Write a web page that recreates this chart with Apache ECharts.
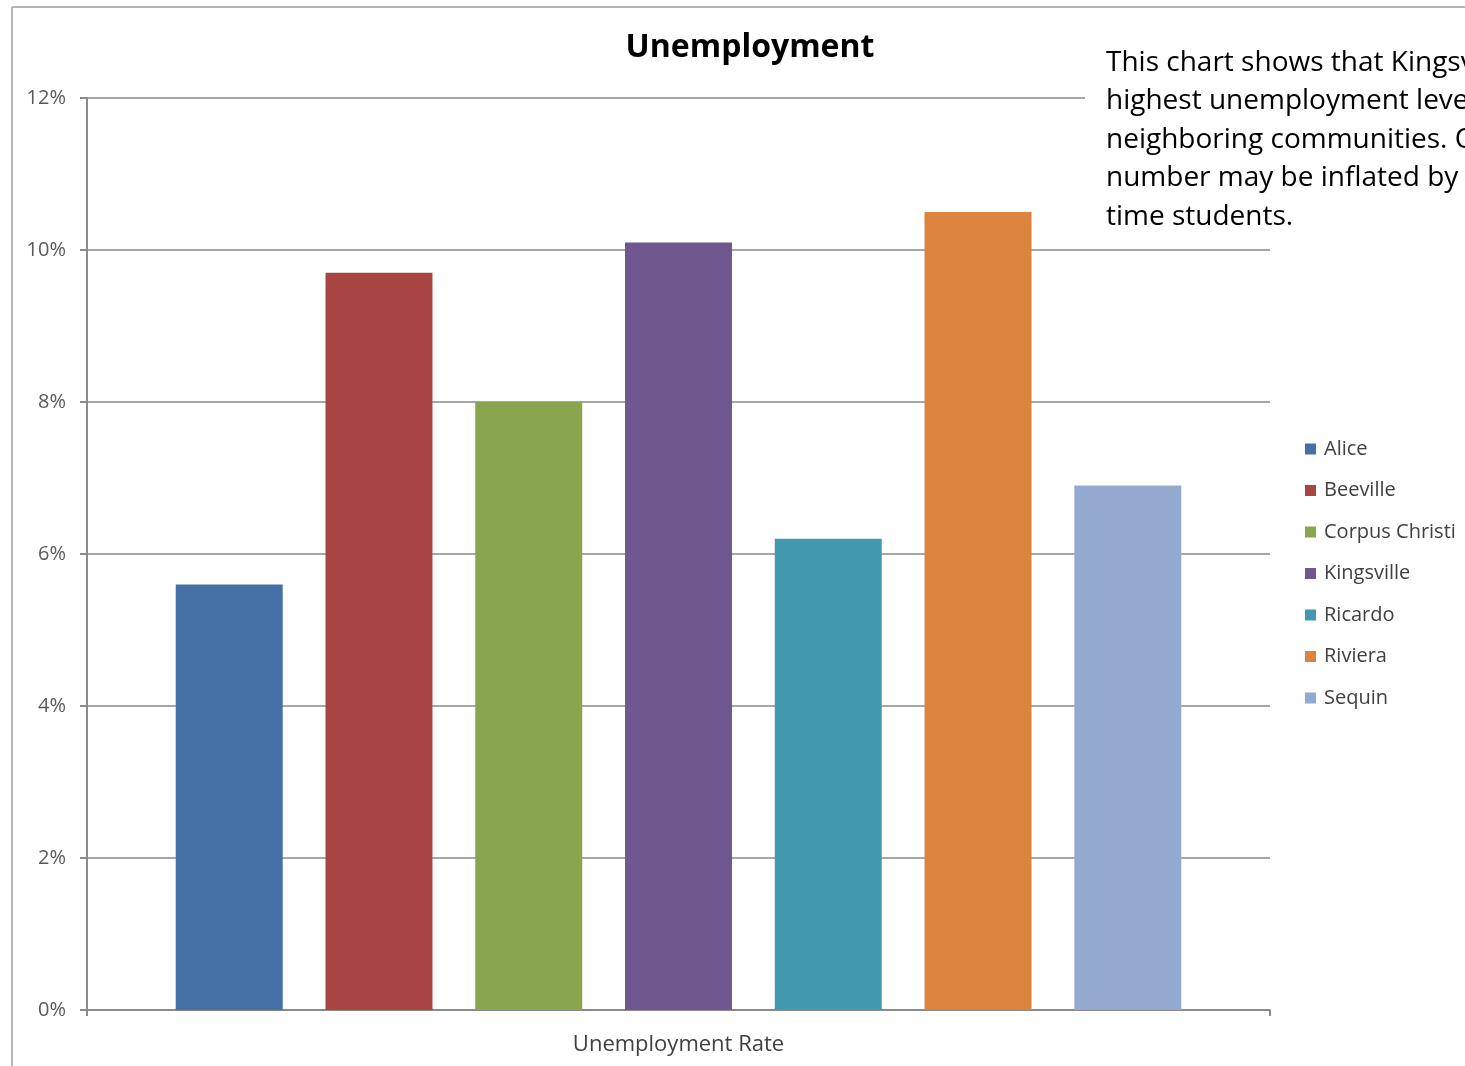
<!DOCTYPE html>
<html>
<head>
<meta charset="utf-8">
<script src="https://cdn.jsdelivr.net/npm/echarts@6/dist/echarts.min.js"></script>
<style>
html,body{margin:0;padding:0;background:#fff;}
#chart{width:1465px;height:1066px;}
</style>
</head>
<body>
<div id="chart"></div>
<script>
const categories = ['Unemployment Rate'];
const seriesNames = ['Alice', 'Beeville', 'Corpus Christi', 'Kingsville', 'Ricardo', 'Riviera', 'Sequin'];
const seriesValues = [5.6, 9.7, 8.0, 10.1, 6.2, 10.5, 6.9];
const seriesColors = ['#4470A6', '#A84542', '#89A54E', '#71578F', '#4298AF', '#DA843D', '#94A9D0'];
const yTicks = [0, 2, 4, 6, 8, 10, 12];
const noteLines = [
  'This chart shows that Kingsville has the',
  'highest unemployment level of all the',
  'neighboring communities. Our',
  'number may be inflated by the part-',
  'time students.'
];

const font = 'Open Sans';
const chart = echarts.init(document.getElementById('chart'));

const series = seriesNames.map((name, i) => ({
  name: name,
  type: 'bar',
  data: [seriesValues[i]],
  itemStyle: { color: seriesColors[i] },
  barGap: '40%',
  barCategoryGap: '15%'
}));

const noteGraphics = noteLines.map((line, i) => ({
  type: 'text',
  left: 1106,
  top: 49 + i * 38.5,
  z: 20,
  style: { text: line, fill: '#000', font: '400 28px "Open Sans"' }
}));

chart.setOption({
  animation: false,
  backgroundColor: '#fff',
  title: {
    text: 'Unemployment',
    left: 745,
    top: 27,
    textAlign: 'center',
    textStyle: { fontFamily: font, fontWeight: 'bold', fontSize: 32, color: '#000' }
  },
  legend: {
    orient: 'vertical',
    left: 1300,
    top: 434,
    itemWidth: 11,
    itemHeight: 11,
    itemGap: 21.5,
    icon: 'rect',
    data: seriesNames,
    textStyle: { fontFamily: font, fontSize: 20, color: '#404040', padding: [0, 0, 0, 3] }
  },
  grid: { left: 87, right: 195, top: 98, bottom: 56, containLabel: false },
  xAxis: {
    type: 'category',
    data: categories,
    axisLine: { lineStyle: { color: '#8a8a8a', width: 2 } },
    axisTick: { show: true, length: 6, lineStyle: { color: '#8a8a8a', width: 2 } },
    axisLabel: { fontFamily: font, fontSize: 22, color: '#404040', margin: 24 }
  },
  yAxis: {
    type: 'value',
    min: 0,
    max: 12,
    interval: 2,
    axisLine: { show: true, lineStyle: { color: '#8a8a8a', width: 2 } },
    axisTick: { show: true, length: 7, lineStyle: { color: '#8a8a8a', width: 2 } },
    splitLine: { lineStyle: { color: '#a6a6a6', width: 2 } },
    axisLabel: {
      fontFamily: font, fontSize: 20, color: '#595959', margin: 21,
      formatter: v => yTicks.includes(v) ? v + '%' : ''
    }
  },
  series: series,
  graphic: [
    { type: 'line', shape: { x1: 12, y1: 7, x2: 1465, y2: 7 }, style: { stroke: '#b5b5b5', lineWidth: 2 }, z: 30 },
    { type: 'line', shape: { x1: 12, y1: 7, x2: 12, y2: 1066 }, style: { stroke: '#b5b5b5', lineWidth: 2 }, z: 30 },
    { type: 'rect', shape: { x: 1085, y: 40, width: 380, height: 197 }, style: { fill: '#fff' }, z: 10 }
  ].concat(noteGraphics)
});
</script>
</body>
</html>
